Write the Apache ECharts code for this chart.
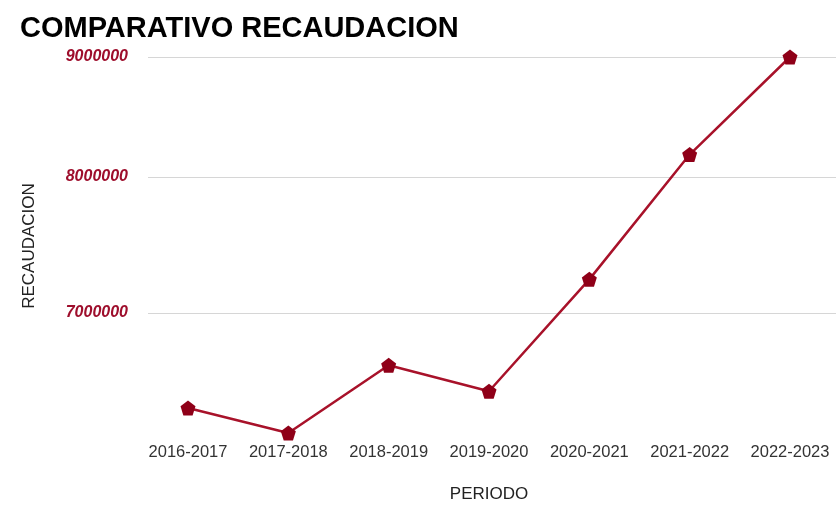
<!DOCTYPE html>
<html>
<head>
<meta charset="utf-8">
<script src="https://cdn.jsdelivr.net/npm/echarts@6/dist/echarts.min.js"></script>
<style>html,body{margin:0;padding:0;background:#fff;}#c{width:836px;height:508px;}</style>
</head>
<body>
<div id="c"></div>
<script>
const categories = ['2016-2017','2017-2018','2018-2019','2019-2020','2020-2021','2021-2022','2022-2023'];
const recaudacion = [6371000, 6216000, 6645000, 6477000, 7231000, 8176000, 9000000];
const yTicks = [7000000, 8000000, 9000000];
const yMin = 6210000;
const yMax = 9000000;

const chart = echarts.init(document.getElementById('c'), null, {renderer: 'canvas'});
const pent = 'path://M0,-1 L0.951,-0.309 L0.588,0.809 L-0.588,0.809 L-0.951,-0.309 Z';
chart.setOption({
  animation: false,
  backgroundColor: '#ffffff',
  title: {
    text: 'COMPARATIVO RECAUDACION',
    left: 15, top: 9,
    textStyle: {fontFamily: 'Liberation Sans, Arial', fontWeight: 'bold', fontSize: 29, color: '#000'}
  },
  grid: [
    {left: 148, right: 0, top: 57, bottom: 73},
    {left: 188, right: 46, top: 57, bottom: 73}
  ],
  xAxis: [
    {type: 'category', gridIndex: 0, data: categories, show: false},
    {
      type: 'category', gridIndex: 1, data: categories, boundaryGap: false,
      axisLine: {show: false}, axisTick: {show: false},
      axisLabel: {color: '#333', fontSize: 16.5, fontFamily: 'Liberation Sans, Arial', margin: 10,
                  interval: 0, hideOverlap: false},
      name: 'PERIODO', nameLocation: 'middle', nameGap: 52,
      nameTextStyle: {color: '#222', fontSize: 17, fontFamily: 'Liberation Sans, Arial'}
    }
  ],
  yAxis: [
    {
      type: 'log', gridIndex: 0, min: yMin, max: yMax, logBase: 10,
      axisLine: {show: false},
      axisTick: {show: false, customValues: yTicks},
      splitLine: {show: true, lineStyle: {color: '#d6d6d6', width: 1}},
      axisLabel: {
        customValues: yTicks, margin: 20,
        color: '#9e0e2c', fontStyle: 'italic', fontWeight: 'bold', fontSize: 16,
        fontFamily: 'Liberation Sans, Arial',
        formatter: v => String(Math.round(v))
      },
      name: 'RECAUDACION', nameLocation: 'middle', nameGap: 110, nameRotate: 90,
      nameTextStyle: {color: '#222', fontSize: 17, fontFamily: 'Liberation Sans, Arial'}
    },
    {
      type: 'log', gridIndex: 1, min: yMin, max: yMax, logBase: 10,
      show: false, splitLine: {show: false}
    }
  ],
  series: [{
    type: 'line',
    xAxisIndex: 1, yAxisIndex: 1,
    data: recaudacion,
    symbol: pent, symbolSize: 15, showAllSymbol: true,
    lineStyle: {color: '#a8122a', width: 2.5},
    itemStyle: {color: '#8f0018'},
    clip: true
  }]
});
</script>
</body>
</html>
